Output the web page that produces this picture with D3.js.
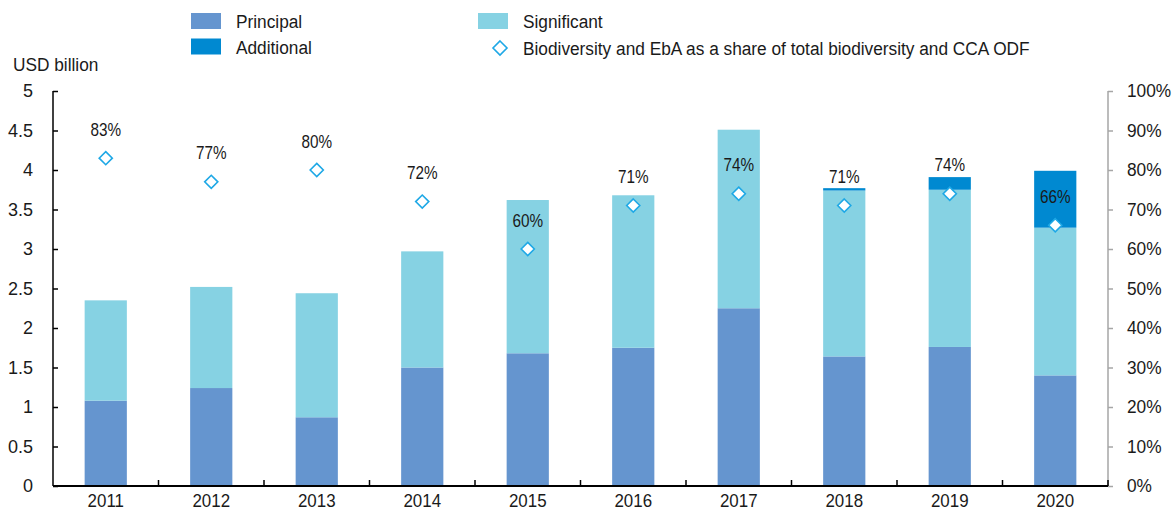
<!DOCTYPE html>
<html>
<head>
<meta charset="utf-8">
<script src="https://cdn.jsdelivr.net/npm/d3@7"></script>
<style>
  body { margin: 0; background: #fff; }
  svg { display: block; }
  text { font-family: "Liberation Sans", Arial, sans-serif; fill: #1a1a1a; }
</style>
</head>
<body>
<svg id="chart" width="1174" height="511"></svg>
<script>
// data (USD billion, share in %)
let years = ["2011", "2012", "2013", "2014", "2015", "2016", "2017", "2018", "2019", "2020"],
  principal = [1.08, 1.24, 0.87, 1.50, 1.68, 1.75, 2.25, 1.64, 1.76, 1.40],
  significant = [1.27, 1.28, 1.57, 1.47, 1.94, 1.93, 2.26, 2.10, 1.99, 1.87],
  additional = [0, 0, 0, 0, 0, 0, 0, 0.03, 0.16, 0.72],
  share = [83, 77, 80, 72, 60, 71, 74, 71, 74, 66],
  left_ticks = [0, 0.5, 1, 1.5, 2, 2.5, 3, 3.5, 4, 4.5, 5],
  right_ticks = [0, 10, 20, 30, 40, 50, 60, 70, 80, 90, 100];

let colors = {principal: "#6595cf", significant: "#86d2e3", additional: "#0089d1"},
  diamond_stroke = "#1ea8e6";

let margin = {left: 53, right: 66, top: 91, bottom: 25},
  width = 1174, height = 511;

let svg = d3.select("#chart");

let x = d3.scaleBand()
  .domain(years)
  .range([margin.left, width - margin.right])
  .paddingInner(0.6)
  .paddingOuter(0.3);

let y = d3.scaleLinear().domain([0, 5]).range([height - margin.bottom, margin.top]);
let y2 = d3.scaleLinear().domain([0, 100]).range([height - margin.bottom, margin.top]);

let rows = years.map((yr, i) => ({
  year: yr,
  principal: principal[i],
  significant: significant[i],
  additional: additional[i],
  share: share[i]
}));

let stack = d3.stack().keys(["principal", "significant", "additional"]);
let series = stack(rows);

// turn x/y of each text into a transform so it can be squeezed sideways
function narrow(sel, k) {
  sel.each(function() {
    let t = d3.select(this),
      tx = +t.attr("x") || 0,
      ty = +t.attr("y") || 0;
    t.attr("x", 0).attr("y", 0)
      .attr("transform", `translate(${tx},${ty}) scale(${k},1)`);
  });
}

// bars
svg.append("g")
  .selectAll("g")
  .data(series).enter()
  .append("g")
  .attr("fill", d => colors[d.key])
  .selectAll("rect")
  .data(d => d.filter(s => s[1] - s[0] > 0)).enter()
  .append("rect")
  .attr("x", d => x(d.data.year))
  .attr("width", x.bandwidth())
  .attr("y", d => y(d[1]))
  .attr("height", d => y(d[0]) - y(d[1]));

// left axis
let left_axis = d3.axisLeft(y)
  .tickValues(left_ticks)
  .tickSize(-5)
  .tickPadding(20)
  .tickFormat(d3.format("~g"));

let gl = svg.append("g")
  .attr("transform", `translate(${margin.left},0)`)
  .call(left_axis);
gl.select(".domain").attr("stroke", "#000").attr("stroke-width", 1.5).attr("d", `M0,${y(5)}V${y(0)}`);
gl.selectAll(".tick line").attr("stroke", "#000").attr("stroke-width", 1.5);
gl.selectAll(".tick text").attr("font-size", 18).attr("text-anchor", "end");

// right axis
let right_axis = d3.axisRight(y2)
  .tickValues(right_ticks)
  .tickSize(5)
  .tickPadding(14)
  .tickFormat(d => d + "%");

let gr = svg.append("g")
  .attr("transform", `translate(${width - margin.right},0)`)
  .call(right_axis);
gr.select(".domain").attr("stroke", "#a6a6a6").attr("stroke-width", 1.5).attr("d", `M0,${y2(100)}V${y2(0)}`);
gr.selectAll(".tick line").attr("stroke", "#a6a6a6").attr("stroke-width", 1.5);
gr.selectAll(".tick text").attr("font-size", 18).call(narrow, 0.96);

// x axis
let step = x.step();
let gx = svg.append("g").attr("transform", `translate(0,${y(0)})`);
gx.append("line")
  .attr("x1", margin.left).attr("x2", width - margin.right)
  .attr("stroke", "#000").attr("stroke-width", 2);
gx.selectAll(".sep")
  .data(years).enter()
  .append("line")
  .attr("class", "sep")
  .attr("x1", d => x(d) + x.bandwidth() / 2 + step / 2)
  .attr("x2", d => x(d) + x.bandwidth() / 2 + step / 2)
  .attr("y1", 0).attr("y2", -6)
  .attr("stroke", "#000").attr("stroke-width", 1.5);
gx.selectAll(".year")
  .data(years).enter()
  .append("text")
  .attr("class", "year")
  .attr("x", d => x(d) + x.bandwidth() / 2)
  .attr("y", 21)
  .attr("text-anchor", "middle")
  .attr("font-size", 18)
  .text(d => d)
  .call(narrow, 0.94);

// unit label
svg.append("text")
  .attr("x", 13).attr("y", 71)
  .attr("font-size", 18)
  .text("USD billion")
  .call(narrow, 0.96);

// diamonds and labels
let diamond = d3.symbol().type(d3.symbolDiamond2).size(110);
svg.append("g")
  .selectAll("path")
  .data(rows).enter()
  .append("path")
  .attr("d", diamond)
  .attr("transform", d => `translate(${x(d.year) + x.bandwidth() / 2},${y2(d.share)})`)
  .attr("fill", "#fff")
  .attr("stroke", diamond_stroke)
  .attr("stroke-width", 1.6);

svg.append("g")
  .selectAll("text")
  .data(rows).enter()
  .append("text")
  .attr("x", d => x(d.year) + x.bandwidth() / 2)
  .attr("y", d => y2(d.share) - 22.5)
  .attr("text-anchor", "middle")
  .attr("font-size", 18)
  .text(d => d.share + "%")
  .call(narrow, 0.85);

// legend
let legend_items = [
  {label: "Principal", type: "rect", color: colors.principal, x: 191, y: 21},
  {label: "Additional", type: "rect", color: colors.additional, x: 191, y: 46.5},
  {label: "Significant", type: "rect", color: colors.significant, x: 478, y: 21},
  {label: "Biodiversity and EbA as a share of total biodiversity and CCA ODF", type: "diamond", x: 478, y: 48}
];

let lg = svg.append("g")
  .selectAll("g")
  .data(legend_items).enter()
  .append("g")
  .attr("transform", d => `translate(${d.x},${d.y})`);

lg.filter(d => d.type == "rect")
  .append("rect")
  .attr("x", 0).attr("y", -8)
  .attr("width", 30).attr("height", 16)
  .attr("fill", d => d.color);

lg.filter(d => d.type == "diamond")
  .append("path")
  .attr("d", d3.symbol().type(d3.symbolDiamond2).size(125))
  .attr("transform", "translate(22,0)")
  .attr("fill", "#fff")
  .attr("stroke", diamond_stroke)
  .attr("stroke-width", 1.6);

lg.append("text")
  .attr("x", 45)
  .attr("y", 7)
  .attr("font-size", 18)
  .text(d => d.label)
  .call(narrow, 0.96);
</script>
</body>
</html>
